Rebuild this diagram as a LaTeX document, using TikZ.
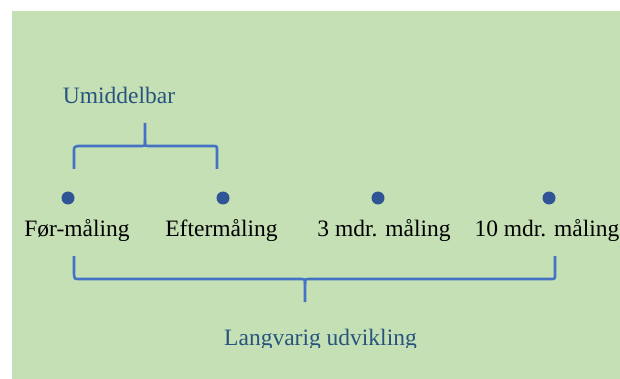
\documentclass[tikz,border=0pt]{standalone}
\usepackage{fontspec}
\setmainfont{Liberation Serif}
\definecolor{bggreen}{RGB}{197,224,180}
\definecolor{bracecol}{RGB}{68,114,196}
\definecolor{dotcol}{RGB}{47,85,151}
\definecolor{captcol}{RGB}{38,84,126}
\tikzset{
  dotnode/.style={circle,fill=dotcol,inner sep=0pt,minimum size=13pt},
  lbl/.style={anchor=base,inner sep=0pt,font=\fontsize{23.5}{28}\selectfont,text=black},
  capt/.style={anchor=base,inner sep=0pt,font=\fontsize{23.5}{28}\selectfont,text=captcol},
  bracepath/.style={draw=bracecol,line width=2.6pt,line join=round}
}
\begin{document}
\begin{tikzpicture}[x=1pt,y=-1pt]
\useasboundingbox (0,0) rectangle (620,379);
\fill[white] (0,0) rectangle (620,379);
\fill[bggreen] (12,11) rectangle (620,379);
% dots
\node[dotnode] (d1) at (68,198) {};
\node[dotnode] (d2) at (223,198) {};
\node[dotnode] (d3) at (378,198) {};
\node[dotnode] (d4) at (549,198) {};
% labels (clipped at bottom like the reference)
\begin{scope}
\clip (12,11) rectangle (620,240.5);
\node[lbl] (l1) at (77,236.5) {Før-måling};
\node[lbl] (l2) at (221.5,236.5) {Eftermåling};
\node[lbl] (l3) at (384,236.5) {3 mdr. måling};
\node[lbl] (l4) at (547,236.5) {10 mdr. måling};
\end{scope}
\node[capt] (u) at (119,104) {Umiddelbar};
\begin{scope}
\clip (12,11) rectangle (620,347.5);
\node[capt] (lu) at (320.5,345) {Langvarig udvikling};
\end{scope}
% top brace
\path[bracepath] (74,169) -- (74,151) .. controls (74,147) .. (78,146) -- (141,146)
  .. controls (145,146) .. (145,141) -- (145,123);
\path[bracepath] (145,141) .. controls (145,146) .. (149,146) -- (213,146)
  .. controls (217,146) .. (217,151) -- (217,169);
% bottom brace
\path[bracepath] (74,256) -- (74,274) .. controls (74.5,279) .. (79,279) -- (300,279)
  .. controls (305,279) .. (305,284) -- (305,302);
\path[bracepath] (305,284) .. controls (305,279) .. (310,279) -- (551,279)
  .. controls (555,279) .. (555,274) -- (555,256);
\end{tikzpicture}
\end{document}
